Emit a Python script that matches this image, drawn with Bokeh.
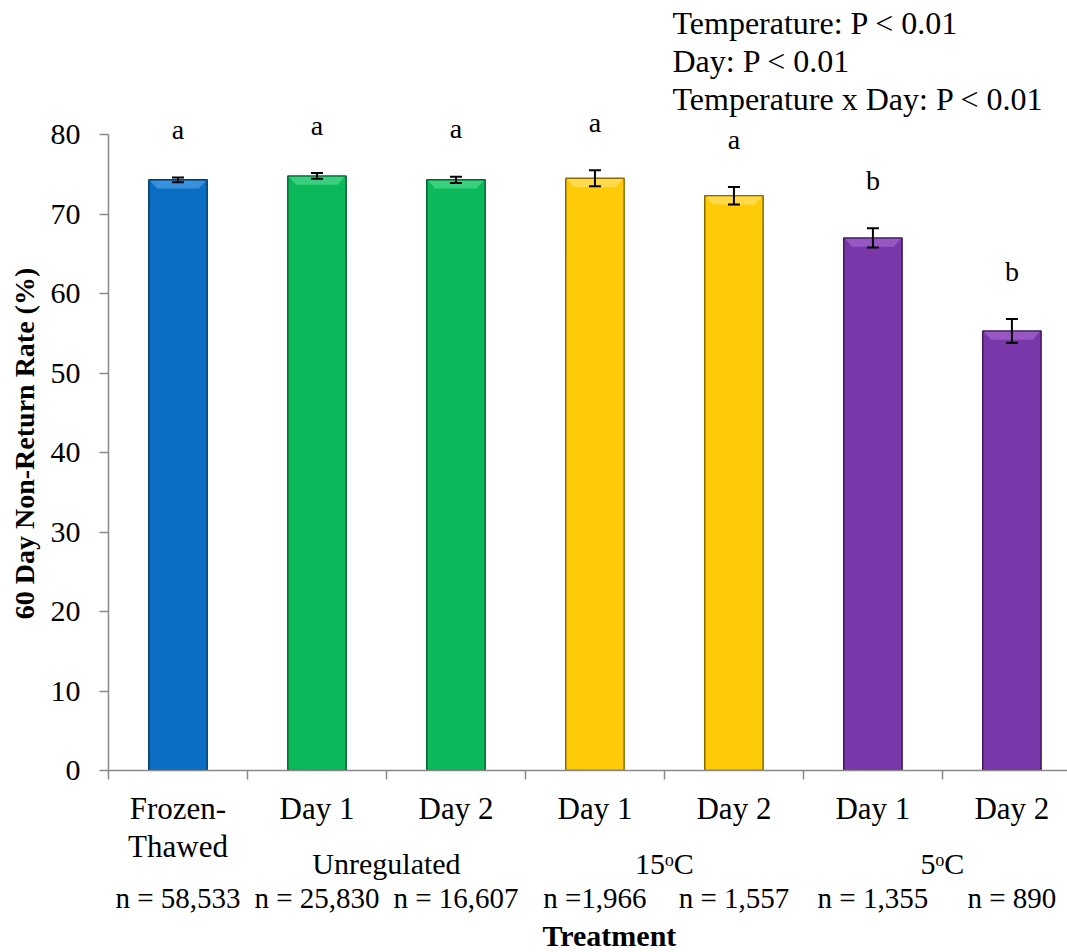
import numpy as np
from bokeh.plotting import figure
from bokeh.models import (ColumnDataSource, Range1d, FixedTicker, LinearAxis,
                          Whisker, TeeHead, Title)
from bokeh.core.properties import value
from bokeh.embed import file_html
from bokeh.resources import INLINE

# ---------------- data ----------------
categories = ["Frozen-", "Day 1", "Day 2", "Day 1", "Day 2", "Day 1", "Day 2"]
category_line2 = ["Thawed"]
groups = ["Unregulated", "15\u1d52C", "5\u1d52C"]
n_labels = ["n = 58,533", "n = 25,830", "n = 16,607", "n =1,966",
            "n = 1,557", "n = 1,355", "n = 890"]
rates = [74.3, 74.8, 74.3, 74.5, 72.3, 67.0, 55.3]
sem = [0.3, 0.35, 0.4, 1.0, 1.1, 1.2, 1.5]
letters = ["a", "a", "a", "a", "a", "b", "b"]
stats = ["Temperature: P < 0.01", "Day: P < 0.01", "Temperature x Day: P < 0.01"]
y_ticks = [0, 10, 20, 30, 40, 50, 60, 70, 80]
x_title = "Treatment"
y_title = "60 Day Non-Return Rate (%)"

# ---------------- styles ----------------
fill_colors = ["#0A6FC2", "#0BB95A", "#0BB95A", "#FFCA08", "#FFCA08", "#7A37A9", "#7A37A9"]
edge_colors = ["#053A66", "#066432", "#066432", "#8A6A00", "#8A6A00", "#3E1A58", "#3E1A58"]
light_colors = ["#3D95DD", "#3FD283", "#3FD283", "#FFDC55", "#FFDC55", "#9A5CC8", "#9A5CC8"]
FONT = "Liberation Serif"
AX = "#898989"
BAR_W = 0.42
LETTER_GAP = 6.0

xs = np.arange(len(rates)) + 0.5
r = np.array(rates)
e = np.array(sem)

src = ColumnDataSource(dict(x=xs, top=r, upper=r + e, lower=r - e,
                            fill=fill_colors, edge=edge_colors, light=light_colors,
                            letter=letters, ly=r + e + LETTER_GAP))

p = figure(width=1067, height=952, x_range=Range1d(0, 6.9), y_range=Range1d(0, 82.27),
           output_backend="svg", toolbar_location=None,
           x_axis_type=None, y_axis_type=None,
           min_border_left=108, min_border_right=0, min_border_top=116, min_border_bottom=182)
p.outline_line_color = None
p.xgrid.visible = False
p.ygrid.visible = False

# bars
p.vbar(x="x", top="top", bottom=0, width=BAR_W, source=src,
       fill_color="fill", line_color="edge", line_width=1.5)

# bevel highlight at top of bars (trapezoids derived from bar values)
bev_h = 1.1
bev_in = 0.06
pxs = [[x - BAR_W / 2 + 0.01, x + BAR_W / 2 - 0.01, x + BAR_W / 2 - bev_in, x - BAR_W / 2 + bev_in]
       for x in xs]
pys = [[t - 0.1, t - 0.1, t - bev_h, t - bev_h] for t in r]
p.patches(pxs, pys, fill_color=light_colors, line_color=None, fill_alpha=0.9)

# error bars
w = Whisker(base="x", upper="upper", lower="lower", source=src, level="overlay",
            line_color="black", line_width=2,
            upper_head=TeeHead(size=12, line_width=2, line_color="black"),
            lower_head=TeeHead(size=12, line_width=2, line_color="black"))
p.add_layout(w)

# significance letters
p.text(x="x", y="ly", text="letter", source=src, text_align="center",
       text_baseline="alphabetic", text_font=value(FONT), text_font_size="28px",
       text_color="black")

# stats annotation (stacked titles above the frame; last line nearest the frame)
for txt in reversed(stats):
    p.add_layout(Title(text=txt, align="left", offset=564, standoff=0,
                       text_font=FONT, text_font_size="32px", text_font_style="normal",
                       text_color="black"), "above")

# y axis
yax = LinearAxis(ticker=FixedTicker(ticks=y_ticks), bounds=(0, 80),
                 axis_label=y_title,
                 axis_label_text_font=FONT, axis_label_text_font_style="bold",
                 axis_label_text_font_size="28px", axis_label_standoff=8,
                 axis_label_text_color="black",
                 major_label_text_font=FONT, major_label_text_font_size="30px",
                 major_label_text_color="black",
                 major_label_standoff=19, major_tick_out=9, major_tick_in=0,
                 minor_tick_out=0, minor_tick_in=0,
                 axis_line_color=AX, major_tick_line_color=AX, axis_line_width=1.5,
                 major_tick_line_width=1.5)
p.add_layout(yax, "left")


def label_axis(ticks, labels, standoff, size="30px", **kw):
    return LinearAxis(ticker=FixedTicker(ticks=list(ticks)),
                      major_label_overrides={float(t): s for t, s in zip(ticks, labels)},
                      major_label_text_font=FONT, major_label_text_font_size=size,
                      major_label_text_color="black",
                      major_label_standoff=standoff, major_tick_out=0, major_tick_in=0,
                      minor_tick_out=0, minor_tick_in=0,
                      axis_line_color=None, major_tick_line_color=None,
                      minor_tick_line_color=None, **kw)


# main x axis: boundary ticks + category labels
xax = LinearAxis(ticker=FixedTicker(ticks=list(xs), minor_ticks=list(range(7))),
                 major_label_overrides={float(t): s for t, s in zip(xs, categories)},
                 major_label_text_font=FONT, major_label_text_font_size="31px",
                 major_label_text_color="black",
                 major_label_standoff=11, major_tick_out=0, major_tick_in=0,
                 minor_tick_out=9, minor_tick_in=0,
                 axis_line_color=AX, minor_tick_line_color=AX, major_tick_line_color=None,
                 axis_line_width=1.5, minor_tick_line_width=1.5)
p.add_layout(xax, "below")

# second line of the first category
p.add_layout(label_axis(xs[:1], category_line2, 0, size="31px"), "below")

# treatment groups, centred between their two days
p.add_layout(label_axis([2, 4, 6], groups, -20), "below")

# sample sizes
p.add_layout(label_axis(xs, n_labels, -1, size="29px"), "below")

# x axis title (placed right of centre as in the original)
p.add_layout(Title(text=x_title, align="left", offset=434, standoff=0,
                   text_font=FONT, text_font_size="30px", text_font_style="bold",
                   text_color="black"), "below")

open("out.html", "w").write(file_html(p, INLINE))
